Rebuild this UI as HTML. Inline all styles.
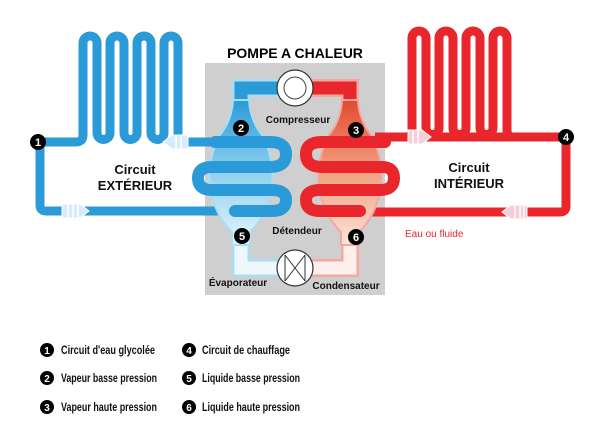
<!DOCTYPE html>
<html><head><meta charset="utf-8"><style>
html,body{margin:0;padding:0;background:#fff;}
svg{display:block}
.t{font-family:"Liberation Sans",Arial,sans-serif;font-weight:bold}
.n{font-family:"Liberation Sans",sans-serif;font-weight:bold;font-size:12px}
</style></head><body>
<svg width="600" height="447" viewBox="0 0 600 447" xmlns="http://www.w3.org/2000/svg">
<defs>
<linearGradient id="bb" x1="0" y1="0" x2="0" y2="1"><stop offset="0" stop-color="#2a9ad8"/><stop offset="0.5" stop-color="#8fd0f0"/><stop offset="1" stop-color="#e6f6fc"/></linearGradient>
<linearGradient id="rb" x1="0" y1="0" x2="0" y2="1"><stop offset="0" stop-color="#e24a30"/><stop offset="0.5" stop-color="#f2a080"/><stop offset="1" stop-color="#fbe4da"/></linearGradient>
<g id="serp">
<path d="M40 142 H76 Q83 142 83 135 V43 A7 7 0 0 1 97 43 V133 A6.5 6.5 0 0 0 110 133 V43 A7 7 0 0 1 124 43 V133 A6.5 6.5 0 0 0 137 133 V43 A7 7 0 0 1 151 43 V133 A6.5 6.5 0 0 0 164 133 V43 A7 7 0 0 1 178 43 V135 Q178 142 185 142 H215" fill="none" stroke-width="9" stroke-linejoin="round"/>
</g>
</defs>
<rect x="205" y="63" width="180" height="232" fill="#cfcfcf"/>
<text x="295" y="58" text-anchor="middle" class="t" font-size="14">POMPE A CHALEUR</text>

<use href="#serp" stroke="#2a9ad8"/>
<path d="M40 142 V205 Q40 211 46 211 H240" fill="none" stroke="#2a9ad8" stroke-width="9"/>
<path d="M241 110 V88 H280" fill="none" stroke="#a8def4" stroke-width="18"/>
<path d="M241 110 V88 H280" fill="none" stroke="#2a9ad8" stroke-width="13"/>
<path d="M241 235 V268 H280" fill="none" stroke="#a8def4" stroke-width="18"/>
<path d="M241 235 V268 H280" fill="none" stroke="#eef8fc" stroke-width="13"/>
<path d="M233 100 H249 Q250 120 262 135 Q275 160 272 185 Q268 215 250 232 V245 H232 V232 Q214 215 210 185 Q207 160 220 135 Q232 120 233 100Z" fill="url(#bb)" stroke="#a8def4" stroke-width="2"/>
<path d="M215 142 H270 Q286 142 286 154 Q286 167 270 167 H212 Q198 167 198 178 Q198 190 212 190 H272 Q286 190 286 200 Q286 211 272 211 H235" fill="none" stroke="#2a9ad8" stroke-width="12" stroke-linecap="round"/>

<g transform="translate(590,-5) scale(-1,1)"><use href="#serp" stroke="#e8262b"/></g>
<path d="M375 137 H560 Q566 137 566 143 V206 Q566 212 560 212 H355" fill="none" stroke="#e8262b" stroke-width="9"/>
<path d="M350 110 V88 H310" fill="none" stroke="#f4a8a0" stroke-width="18"/>
<path d="M350 110 V88 H310" fill="none" stroke="#e8262b" stroke-width="13"/>
<path d="M350 235 V268 H310" fill="none" stroke="#f4a8a0" stroke-width="18"/>
<path d="M350 235 V268 H310" fill="none" stroke="#fdf0ec" stroke-width="13"/>
<path d="M342 100 H358 Q359 120 371 135 Q384 160 381 185 Q377 215 359 232 V245 H341 V232 Q323 215 319 185 Q316 160 329 135 Q341 120 342 100Z" fill="url(#rb)" stroke="#f4a8a0" stroke-width="2"/>
<path d="M385 142 H322 Q306 142 306 154 Q306 167 322 167 H382 Q394 167 394 178 Q394 190 380 190 H320 Q306 190 306 200 Q306 211 320 211 H360" fill="none" stroke="#e8262b" stroke-width="12" stroke-linecap="round"/>

<circle cx="295" cy="88" r="18" fill="#fff" stroke="#333" stroke-width="1.2"/>
<circle cx="295" cy="88" r="11" fill="#fff" stroke="#444" stroke-width="1"/>
<circle cx="295" cy="268" r="18" fill="#fff" stroke="#333" stroke-width="1.2"/>
<path d="M285 255 V281 M305 255 V281 M285 255 L305 281 M305 255 L285 281" stroke="#333" stroke-width="1" fill="none"/>

<g fill="#d6ecfa" stroke="#fff" stroke-width="1">
<path d="M163 142 L172 135 H188 V149 H172Z"/>
<path d="M62 204 H80 L89 211 L80 218 H62Z"/>
</g>
<g stroke="#fff" stroke-width="1.5"><path d="M176 135V149M181 135V149M68 204V218M73 204V218M78 204V218"/></g>
<g fill="#f8ccd8" stroke="#fff" stroke-width="1">
<path d="M408 130 H422 L431 137 L422 144 H408Z"/>
<path d="M502 212 L511 205 H527 V219 H511Z"/>
</g>
<g stroke="#fff" stroke-width="1.5"><path d="M413 130V144M418 130V144M515 205V219M520 205V219M524 205V219"/></g>

<g fill="#000"><circle cx="38" cy="142" r="8"/><circle cx="241" cy="128" r="8"/><circle cx="356" cy="130" r="8"/><circle cx="566" cy="137" r="8"/><circle cx="242" cy="236" r="8"/><circle cx="356" cy="237" r="8"/></g>
<g class="t" font-size="11" fill="#fff" text-anchor="middle">
<text x="38" y="146">1</text><text x="241" y="132">2</text><text x="356" y="134">3</text><text x="566" y="141">4</text><text x="242" y="240">5</text><text x="356" y="241">6</text></g>

<g class="t" font-size="10" fill="#111" text-anchor="middle">
<text x="298" y="123">Compresseur</text><text x="297" y="234">Détendeur</text>
<text x="238" y="286">Évaporateur</text><text x="346" y="289">Condensateur</text></g>
<g class="t" font-size="13" fill="#111" text-anchor="middle">
<text x="135" y="174">Circuit</text><text x="135" y="190">EXTÉRIEUR</text>
<text x="469" y="172">Circuit</text><text x="469" y="188">INTÉRIEUR</text></g>
<text x="405" y="237" font-family="Liberation Sans,sans-serif" font-size="10" fill="#e8262b">Eau ou fluide</text>

<g fill="#000"><circle cx="47" cy="350" r="7"/><circle cx="47" cy="378" r="7"/><circle cx="47" cy="407" r="7"/><circle cx="189" cy="350" r="7"/><circle cx="189" cy="378" r="7"/><circle cx="189" cy="407" r="7"/></g>
<g class="t" font-size="10" fill="#fff" text-anchor="middle"><text x="47" y="354">1</text><text x="47" y="382">2</text><text x="47" y="411">3</text><text x="189" y="354">4</text><text x="189" y="382">5</text><text x="189" y="411">6</text></g>
<g class="n" fill="#111">
<text x="61" y="354" textLength="94" lengthAdjust="spacingAndGlyphs">Circuit d'eau glycolée</text>
<text x="61" y="382" textLength="96" lengthAdjust="spacingAndGlyphs">Vapeur basse pression</text>
<text x="61" y="411" textLength="96" lengthAdjust="spacingAndGlyphs">Vapeur haute pression</text>
<text x="202" y="354" textLength="88" lengthAdjust="spacingAndGlyphs">Circuit de chauffage</text>
<text x="202" y="382" textLength="98" lengthAdjust="spacingAndGlyphs">Liquide basse pression</text>
<text x="202" y="411" textLength="98" lengthAdjust="spacingAndGlyphs">Liquide haute pression</text></g>
</svg>
</body></html>
